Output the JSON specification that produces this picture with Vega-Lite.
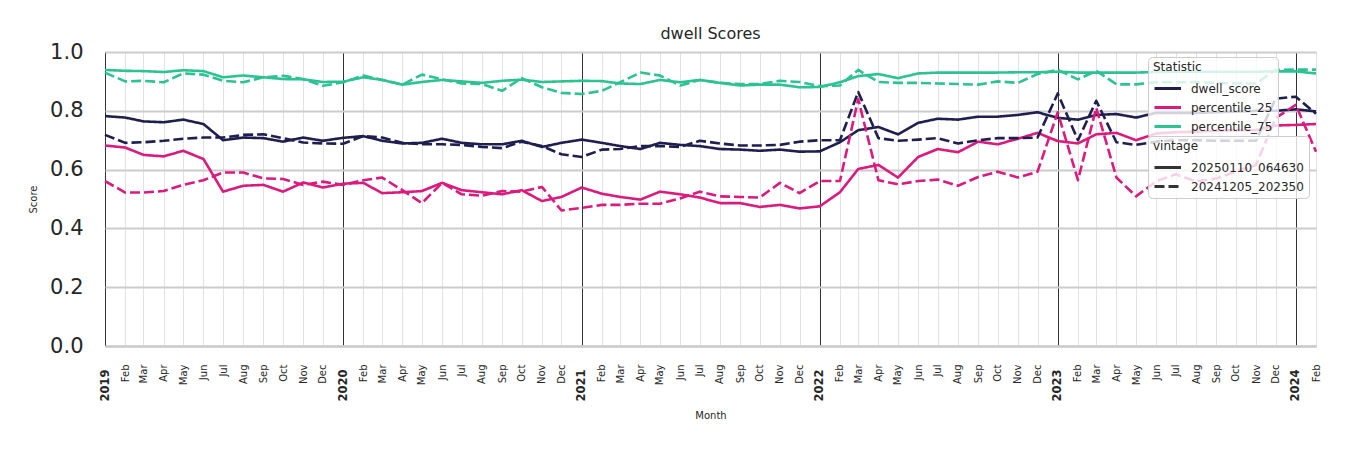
{
"$schema": "https://vega.github.io/schema/vega-lite/v6.json",
"width": 1211, "height": 294,
"autosize": "none",
"padding": {"left": 105, "top": 52, "right": 34, "bottom": 104},
"background": "white",
"config": {"font": "DejaVu Sans", "view": {"stroke": null}},
"title": {"text": "dwell Scores", "fontSize": 16, "fontWeight": "normal", "color": "#262626", "offset": 14, "dy": 28, "baseline": "alphabetic", "anchor": "middle", "frame": "group"},
"data": {"values": [
{"t":"2019-01-01","s":"dwell_score","g":"20250110_064630","y":0.782},{"t":"2019-02-01","s":"dwell_score","g":"20250110_064630","y":0.777},{"t":"2019-03-01","s":"dwell_score","g":"20250110_064630","y":0.764},{"t":"2019-04-01","s":"dwell_score","g":"20250110_064630","y":0.761},{"t":"2019-05-01","s":"dwell_score","g":"20250110_064630","y":0.770},{"t":"2019-06-01","s":"dwell_score","g":"20250110_064630","y":0.755},{"t":"2019-07-01","s":"dwell_score","g":"20250110_064630","y":0.700},{"t":"2019-08-01","s":"dwell_score","g":"20250110_064630","y":0.709},{"t":"2019-09-01","s":"dwell_score","g":"20250110_064630","y":0.707},{"t":"2019-10-01","s":"dwell_score","g":"20250110_064630","y":0.695},{"t":"2019-11-01","s":"dwell_score","g":"20250110_064630","y":0.709},{"t":"2019-12-01","s":"dwell_score","g":"20250110_064630","y":0.698},
{"t":"2020-01-01","s":"dwell_score","g":"20250110_064630","y":0.708},{"t":"2020-02-01","s":"dwell_score","g":"20250110_064630","y":0.714},{"t":"2020-03-01","s":"dwell_score","g":"20250110_064630","y":0.698},{"t":"2020-04-01","s":"dwell_score","g":"20250110_064630","y":0.689},{"t":"2020-05-01","s":"dwell_score","g":"20250110_064630","y":0.691},{"t":"2020-06-01","s":"dwell_score","g":"20250110_064630","y":0.705},{"t":"2020-07-01","s":"dwell_score","g":"20250110_064630","y":0.691},{"t":"2020-08-01","s":"dwell_score","g":"20250110_064630","y":0.686},{"t":"2020-09-01","s":"dwell_score","g":"20250110_064630","y":0.686},{"t":"2020-10-01","s":"dwell_score","g":"20250110_064630","y":0.698},{"t":"2020-11-01","s":"dwell_score","g":"20250110_064630","y":0.677},{"t":"2020-12-01","s":"dwell_score","g":"20250110_064630","y":0.691},
{"t":"2021-01-01","s":"dwell_score","g":"20250110_064630","y":0.702},{"t":"2021-02-01","s":"dwell_score","g":"20250110_064630","y":0.691},{"t":"2021-03-01","s":"dwell_score","g":"20250110_064630","y":0.680},{"t":"2021-04-01","s":"dwell_score","g":"20250110_064630","y":0.670},{"t":"2021-05-01","s":"dwell_score","g":"20250110_064630","y":0.691},{"t":"2021-06-01","s":"dwell_score","g":"20250110_064630","y":0.684},{"t":"2021-07-01","s":"dwell_score","g":"20250110_064630","y":0.680},{"t":"2021-08-01","s":"dwell_score","g":"20250110_064630","y":0.670},{"t":"2021-09-01","s":"dwell_score","g":"20250110_064630","y":0.668},{"t":"2021-10-01","s":"dwell_score","g":"20250110_064630","y":0.664},{"t":"2021-11-01","s":"dwell_score","g":"20250110_064630","y":0.668},{"t":"2021-12-01","s":"dwell_score","g":"20250110_064630","y":0.661},
{"t":"2022-01-01","s":"dwell_score","g":"20250110_064630","y":0.662},{"t":"2022-02-01","s":"dwell_score","g":"20250110_064630","y":0.693},{"t":"2022-03-01","s":"dwell_score","g":"20250110_064630","y":0.734},{"t":"2022-04-01","s":"dwell_score","g":"20250110_064630","y":0.745},{"t":"2022-05-01","s":"dwell_score","g":"20250110_064630","y":0.720},{"t":"2022-06-01","s":"dwell_score","g":"20250110_064630","y":0.759},{"t":"2022-07-01","s":"dwell_score","g":"20250110_064630","y":0.773},{"t":"2022-08-01","s":"dwell_score","g":"20250110_064630","y":0.770},{"t":"2022-09-01","s":"dwell_score","g":"20250110_064630","y":0.780},{"t":"2022-10-01","s":"dwell_score","g":"20250110_064630","y":0.780},{"t":"2022-11-01","s":"dwell_score","g":"20250110_064630","y":0.786},{"t":"2022-12-01","s":"dwell_score","g":"20250110_064630","y":0.795},
{"t":"2023-01-01","s":"dwell_score","g":"20250110_064630","y":0.776},{"t":"2023-02-01","s":"dwell_score","g":"20250110_064630","y":0.770},{"t":"2023-03-01","s":"dwell_score","g":"20250110_064630","y":0.786},{"t":"2023-04-01","s":"dwell_score","g":"20250110_064630","y":0.789},{"t":"2023-05-01","s":"dwell_score","g":"20250110_064630","y":0.777},{"t":"2023-06-01","s":"dwell_score","g":"20250110_064630","y":0.793},{"t":"2023-07-01","s":"dwell_score","g":"20250110_064630","y":0.793},{"t":"2023-08-01","s":"dwell_score","g":"20250110_064630","y":0.793},{"t":"2023-09-01","s":"dwell_score","g":"20250110_064630","y":0.795},{"t":"2023-10-01","s":"dwell_score","g":"20250110_064630","y":0.797},{"t":"2023-11-01","s":"dwell_score","g":"20250110_064630","y":0.800},{"t":"2023-12-01","s":"dwell_score","g":"20250110_064630","y":0.800},
{"t":"2024-01-01","s":"dwell_score","g":"20250110_064630","y":0.805},{"t":"2024-02-01","s":"dwell_score","g":"20250110_064630","y":0.798},

{"t":"2019-01-01","s":"percentile_25","g":"20250110_064630","y":0.682},{"t":"2019-02-01","s":"percentile_25","g":"20250110_064630","y":0.675},{"t":"2019-03-01","s":"percentile_25","g":"20250110_064630","y":0.650},{"t":"2019-04-01","s":"percentile_25","g":"20250110_064630","y":0.645},{"t":"2019-05-01","s":"percentile_25","g":"20250110_064630","y":0.664},{"t":"2019-06-01","s":"percentile_25","g":"20250110_064630","y":0.636},{"t":"2019-07-01","s":"percentile_25","g":"20250110_064630","y":0.525},{"t":"2019-08-01","s":"percentile_25","g":"20250110_064630","y":0.545},{"t":"2019-09-01","s":"percentile_25","g":"20250110_064630","y":0.548},{"t":"2019-10-01","s":"percentile_25","g":"20250110_064630","y":0.525},{"t":"2019-11-01","s":"percentile_25","g":"20250110_064630","y":0.556},{"t":"2019-12-01","s":"percentile_25","g":"20250110_064630","y":0.539},
{"t":"2020-01-01","s":"percentile_25","g":"20250110_064630","y":0.552},{"t":"2020-02-01","s":"percentile_25","g":"20250110_064630","y":0.555},{"t":"2020-03-01","s":"percentile_25","g":"20250110_064630","y":0.520},{"t":"2020-04-01","s":"percentile_25","g":"20250110_064630","y":0.523},{"t":"2020-05-01","s":"percentile_25","g":"20250110_064630","y":0.527},{"t":"2020-06-01","s":"percentile_25","g":"20250110_064630","y":0.555},{"t":"2020-07-01","s":"percentile_25","g":"20250110_064630","y":0.530},{"t":"2020-08-01","s":"percentile_25","g":"20250110_064630","y":0.523},{"t":"2020-09-01","s":"percentile_25","g":"20250110_064630","y":0.516},{"t":"2020-10-01","s":"percentile_25","g":"20250110_064630","y":0.530},{"t":"2020-11-01","s":"percentile_25","g":"20250110_064630","y":0.493},{"t":"2020-12-01","s":"percentile_25","g":"20250110_064630","y":0.507},
{"t":"2021-01-01","s":"percentile_25","g":"20250110_064630","y":0.539},{"t":"2021-02-01","s":"percentile_25","g":"20250110_064630","y":0.518},{"t":"2021-03-01","s":"percentile_25","g":"20250110_064630","y":0.507},{"t":"2021-04-01","s":"percentile_25","g":"20250110_064630","y":0.498},{"t":"2021-05-01","s":"percentile_25","g":"20250110_064630","y":0.525},{"t":"2021-06-01","s":"percentile_25","g":"20250110_064630","y":0.516},{"t":"2021-07-01","s":"percentile_25","g":"20250110_064630","y":0.505},{"t":"2021-08-01","s":"percentile_25","g":"20250110_064630","y":0.486},{"t":"2021-09-01","s":"percentile_25","g":"20250110_064630","y":0.486},{"t":"2021-10-01","s":"percentile_25","g":"20250110_064630","y":0.473},{"t":"2021-11-01","s":"percentile_25","g":"20250110_064630","y":0.480},{"t":"2021-12-01","s":"percentile_25","g":"20250110_064630","y":0.468},
{"t":"2022-01-01","s":"percentile_25","g":"20250110_064630","y":0.475},{"t":"2022-02-01","s":"percentile_25","g":"20250110_064630","y":0.523},{"t":"2022-03-01","s":"percentile_25","g":"20250110_064630","y":0.602},{"t":"2022-04-01","s":"percentile_25","g":"20250110_064630","y":0.616},{"t":"2022-05-01","s":"percentile_25","g":"20250110_064630","y":0.573},{"t":"2022-06-01","s":"percentile_25","g":"20250110_064630","y":0.643},{"t":"2022-07-01","s":"percentile_25","g":"20250110_064630","y":0.670},{"t":"2022-08-01","s":"percentile_25","g":"20250110_064630","y":0.659},{"t":"2022-09-01","s":"percentile_25","g":"20250110_064630","y":0.695},{"t":"2022-10-01","s":"percentile_25","g":"20250110_064630","y":0.686},{"t":"2022-11-01","s":"percentile_25","g":"20250110_064630","y":0.705},{"t":"2022-12-01","s":"percentile_25","g":"20250110_064630","y":0.725},
{"t":"2023-01-01","s":"percentile_25","g":"20250110_064630","y":0.697},{"t":"2023-02-01","s":"percentile_25","g":"20250110_064630","y":0.689},{"t":"2023-03-01","s":"percentile_25","g":"20250110_064630","y":0.720},{"t":"2023-04-01","s":"percentile_25","g":"20250110_064630","y":0.725},{"t":"2023-05-01","s":"percentile_25","g":"20250110_064630","y":0.700},{"t":"2023-06-01","s":"percentile_25","g":"20250110_064630","y":0.723},{"t":"2023-07-01","s":"percentile_25","g":"20250110_064630","y":0.727},{"t":"2023-08-01","s":"percentile_25","g":"20250110_064630","y":0.729},{"t":"2023-09-01","s":"percentile_25","g":"20250110_064630","y":0.732},{"t":"2023-10-01","s":"percentile_25","g":"20250110_064630","y":0.734},{"t":"2023-11-01","s":"percentile_25","g":"20250110_064630","y":0.734},{"t":"2023-12-01","s":"percentile_25","g":"20250110_064630","y":0.750},
{"t":"2024-01-01","s":"percentile_25","g":"20250110_064630","y":0.752},{"t":"2024-02-01","s":"percentile_25","g":"20250110_064630","y":0.755},

{"t":"2019-01-01","s":"percentile_75","g":"20250110_064630","y":0.939},{"t":"2019-02-01","s":"percentile_75","g":"20250110_064630","y":0.936},{"t":"2019-03-01","s":"percentile_75","g":"20250110_064630","y":0.935},{"t":"2019-04-01","s":"percentile_75","g":"20250110_064630","y":0.932},{"t":"2019-05-01","s":"percentile_75","g":"20250110_064630","y":0.938},{"t":"2019-06-01","s":"percentile_75","g":"20250110_064630","y":0.935},{"t":"2019-07-01","s":"percentile_75","g":"20250110_064630","y":0.914},{"t":"2019-08-01","s":"percentile_75","g":"20250110_064630","y":0.920},{"t":"2019-09-01","s":"percentile_75","g":"20250110_064630","y":0.914},{"t":"2019-10-01","s":"percentile_75","g":"20250110_064630","y":0.908},{"t":"2019-11-01","s":"percentile_75","g":"20250110_064630","y":0.907},{"t":"2019-12-01","s":"percentile_75","g":"20250110_064630","y":0.898},
{"t":"2020-01-01","s":"percentile_75","g":"20250110_064630","y":0.899},{"t":"2020-02-01","s":"percentile_75","g":"20250110_064630","y":0.914},{"t":"2020-03-01","s":"percentile_75","g":"20250110_064630","y":0.905},{"t":"2020-04-01","s":"percentile_75","g":"20250110_064630","y":0.889},{"t":"2020-05-01","s":"percentile_75","g":"20250110_064630","y":0.898},{"t":"2020-06-01","s":"percentile_75","g":"20250110_064630","y":0.905},{"t":"2020-07-01","s":"percentile_75","g":"20250110_064630","y":0.900},{"t":"2020-08-01","s":"percentile_75","g":"20250110_064630","y":0.895},{"t":"2020-09-01","s":"percentile_75","g":"20250110_064630","y":0.902},{"t":"2020-10-01","s":"percentile_75","g":"20250110_064630","y":0.906},{"t":"2020-11-01","s":"percentile_75","g":"20250110_064630","y":0.898},{"t":"2020-12-01","s":"percentile_75","g":"20250110_064630","y":0.900},
{"t":"2021-01-01","s":"percentile_75","g":"20250110_064630","y":0.902},{"t":"2021-02-01","s":"percentile_75","g":"20250110_064630","y":0.901},{"t":"2021-03-01","s":"percentile_75","g":"20250110_064630","y":0.893},{"t":"2021-04-01","s":"percentile_75","g":"20250110_064630","y":0.891},{"t":"2021-05-01","s":"percentile_75","g":"20250110_064630","y":0.905},{"t":"2021-06-01","s":"percentile_75","g":"20250110_064630","y":0.897},{"t":"2021-07-01","s":"percentile_75","g":"20250110_064630","y":0.905},{"t":"2021-08-01","s":"percentile_75","g":"20250110_064630","y":0.895},{"t":"2021-09-01","s":"percentile_75","g":"20250110_064630","y":0.886},{"t":"2021-10-01","s":"percentile_75","g":"20250110_064630","y":0.889},{"t":"2021-11-01","s":"percentile_75","g":"20250110_064630","y":0.889},{"t":"2021-12-01","s":"percentile_75","g":"20250110_064630","y":0.880},
{"t":"2022-01-01","s":"percentile_75","g":"20250110_064630","y":0.881},{"t":"2022-02-01","s":"percentile_75","g":"20250110_064630","y":0.897},{"t":"2022-03-01","s":"percentile_75","g":"20250110_064630","y":0.918},{"t":"2022-04-01","s":"percentile_75","g":"20250110_064630","y":0.925},{"t":"2022-05-01","s":"percentile_75","g":"20250110_064630","y":0.911},{"t":"2022-06-01","s":"percentile_75","g":"20250110_064630","y":0.927},{"t":"2022-07-01","s":"percentile_75","g":"20250110_064630","y":0.930},{"t":"2022-08-01","s":"percentile_75","g":"20250110_064630","y":0.930},{"t":"2022-09-01","s":"percentile_75","g":"20250110_064630","y":0.930},{"t":"2022-10-01","s":"percentile_75","g":"20250110_064630","y":0.930},{"t":"2022-11-01","s":"percentile_75","g":"20250110_064630","y":0.931},{"t":"2022-12-01","s":"percentile_75","g":"20250110_064630","y":0.931},
{"t":"2023-01-01","s":"percentile_75","g":"20250110_064630","y":0.933},{"t":"2023-02-01","s":"percentile_75","g":"20250110_064630","y":0.930},{"t":"2023-03-01","s":"percentile_75","g":"20250110_064630","y":0.930},{"t":"2023-04-01","s":"percentile_75","g":"20250110_064630","y":0.930},{"t":"2023-05-01","s":"percentile_75","g":"20250110_064630","y":0.930},{"t":"2023-06-01","s":"percentile_75","g":"20250110_064630","y":0.932},{"t":"2023-07-01","s":"percentile_75","g":"20250110_064630","y":0.933},{"t":"2023-08-01","s":"percentile_75","g":"20250110_064630","y":0.933},{"t":"2023-09-01","s":"percentile_75","g":"20250110_064630","y":0.933},{"t":"2023-10-01","s":"percentile_75","g":"20250110_064630","y":0.933},{"t":"2023-11-01","s":"percentile_75","g":"20250110_064630","y":0.933},{"t":"2023-12-01","s":"percentile_75","g":"20250110_064630","y":0.934},
{"t":"2024-01-01","s":"percentile_75","g":"20250110_064630","y":0.934},{"t":"2024-02-01","s":"percentile_75","g":"20250110_064630","y":0.927},

{"t":"2019-01-01","s":"dwell_score","g":"20241205_202350","y":0.718},{"t":"2019-02-01","s":"dwell_score","g":"20241205_202350","y":0.691},{"t":"2019-03-01","s":"dwell_score","g":"20241205_202350","y":0.693},{"t":"2019-04-01","s":"dwell_score","g":"20241205_202350","y":0.698},{"t":"2019-05-01","s":"dwell_score","g":"20241205_202350","y":0.705},{"t":"2019-06-01","s":"dwell_score","g":"20241205_202350","y":0.709},{"t":"2019-07-01","s":"dwell_score","g":"20241205_202350","y":0.709},{"t":"2019-08-01","s":"dwell_score","g":"20241205_202350","y":0.718},{"t":"2019-09-01","s":"dwell_score","g":"20241205_202350","y":0.720},{"t":"2019-10-01","s":"dwell_score","g":"20241205_202350","y":0.707},{"t":"2019-11-01","s":"dwell_score","g":"20241205_202350","y":0.692},{"t":"2019-12-01","s":"dwell_score","g":"20241205_202350","y":0.689},
{"t":"2020-01-01","s":"dwell_score","g":"20241205_202350","y":0.688},{"t":"2020-02-01","s":"dwell_score","g":"20241205_202350","y":0.714},{"t":"2020-03-01","s":"dwell_score","g":"20241205_202350","y":0.709},{"t":"2020-04-01","s":"dwell_score","g":"20241205_202350","y":0.691},{"t":"2020-05-01","s":"dwell_score","g":"20241205_202350","y":0.686},{"t":"2020-06-01","s":"dwell_score","g":"20241205_202350","y":0.686},{"t":"2020-07-01","s":"dwell_score","g":"20241205_202350","y":0.684},{"t":"2020-08-01","s":"dwell_score","g":"20241205_202350","y":0.677},{"t":"2020-09-01","s":"dwell_score","g":"20241205_202350","y":0.673},{"t":"2020-10-01","s":"dwell_score","g":"20241205_202350","y":0.695},{"t":"2020-11-01","s":"dwell_score","g":"20241205_202350","y":0.680},{"t":"2020-12-01","s":"dwell_score","g":"20241205_202350","y":0.652},
{"t":"2021-01-01","s":"dwell_score","g":"20241205_202350","y":0.643},{"t":"2021-02-01","s":"dwell_score","g":"20241205_202350","y":0.668},{"t":"2021-03-01","s":"dwell_score","g":"20241205_202350","y":0.670},{"t":"2021-04-01","s":"dwell_score","g":"20241205_202350","y":0.680},{"t":"2021-05-01","s":"dwell_score","g":"20241205_202350","y":0.680},{"t":"2021-06-01","s":"dwell_score","g":"20241205_202350","y":0.677},{"t":"2021-07-01","s":"dwell_score","g":"20241205_202350","y":0.698},{"t":"2021-08-01","s":"dwell_score","g":"20241205_202350","y":0.689},{"t":"2021-09-01","s":"dwell_score","g":"20241205_202350","y":0.682},{"t":"2021-10-01","s":"dwell_score","g":"20241205_202350","y":0.682},{"t":"2021-11-01","s":"dwell_score","g":"20241205_202350","y":0.684},{"t":"2021-12-01","s":"dwell_score","g":"20241205_202350","y":0.695},
{"t":"2022-01-01","s":"dwell_score","g":"20241205_202350","y":0.700},{"t":"2022-02-01","s":"dwell_score","g":"20241205_202350","y":0.700},{"t":"2022-03-01","s":"dwell_score","g":"20241205_202350","y":0.864},{"t":"2022-04-01","s":"dwell_score","g":"20241205_202350","y":0.707},{"t":"2022-05-01","s":"dwell_score","g":"20241205_202350","y":0.698},{"t":"2022-06-01","s":"dwell_score","g":"20241205_202350","y":0.702},{"t":"2022-07-01","s":"dwell_score","g":"20241205_202350","y":0.707},{"t":"2022-08-01","s":"dwell_score","g":"20241205_202350","y":0.689},{"t":"2022-09-01","s":"dwell_score","g":"20241205_202350","y":0.700},{"t":"2022-10-01","s":"dwell_score","g":"20241205_202350","y":0.707},{"t":"2022-11-01","s":"dwell_score","g":"20241205_202350","y":0.707},{"t":"2022-12-01","s":"dwell_score","g":"20241205_202350","y":0.709},
{"t":"2023-01-01","s":"dwell_score","g":"20241205_202350","y":0.859},{"t":"2023-02-01","s":"dwell_score","g":"20241205_202350","y":0.700},{"t":"2023-03-01","s":"dwell_score","g":"20241205_202350","y":0.834},{"t":"2023-04-01","s":"dwell_score","g":"20241205_202350","y":0.693},{"t":"2023-05-01","s":"dwell_score","g":"20241205_202350","y":0.684},{"t":"2023-06-01","s":"dwell_score","g":"20241205_202350","y":0.695},{"t":"2023-07-01","s":"dwell_score","g":"20241205_202350","y":0.700},{"t":"2023-08-01","s":"dwell_score","g":"20241205_202350","y":0.700},{"t":"2023-09-01","s":"dwell_score","g":"20241205_202350","y":0.698},{"t":"2023-10-01","s":"dwell_score","g":"20241205_202350","y":0.698},{"t":"2023-11-01","s":"dwell_score","g":"20241205_202350","y":0.698},{"t":"2023-12-01","s":"dwell_score","g":"20241205_202350","y":0.841},
{"t":"2024-01-01","s":"dwell_score","g":"20241205_202350","y":0.848},{"t":"2024-02-01","s":"dwell_score","g":"20241205_202350","y":0.790},

{"t":"2019-01-01","s":"percentile_25","g":"20241205_202350","y":0.561},{"t":"2019-02-01","s":"percentile_25","g":"20241205_202350","y":0.522},{"t":"2019-03-01","s":"percentile_25","g":"20241205_202350","y":0.522},{"t":"2019-04-01","s":"percentile_25","g":"20241205_202350","y":0.527},{"t":"2019-05-01","s":"percentile_25","g":"20241205_202350","y":0.548},{"t":"2019-06-01","s":"percentile_25","g":"20241205_202350","y":0.564},{"t":"2019-07-01","s":"percentile_25","g":"20241205_202350","y":0.590},{"t":"2019-08-01","s":"percentile_25","g":"20241205_202350","y":0.590},{"t":"2019-09-01","s":"percentile_25","g":"20241205_202350","y":0.570},{"t":"2019-10-01","s":"percentile_25","g":"20241205_202350","y":0.568},{"t":"2019-11-01","s":"percentile_25","g":"20241205_202350","y":0.548},{"t":"2019-12-01","s":"percentile_25","g":"20241205_202350","y":0.559},
{"t":"2020-01-01","s":"percentile_25","g":"20241205_202350","y":0.548},{"t":"2020-02-01","s":"percentile_25","g":"20241205_202350","y":0.564},{"t":"2020-03-01","s":"percentile_25","g":"20241205_202350","y":0.573},{"t":"2020-04-01","s":"percentile_25","g":"20241205_202350","y":0.530},{"t":"2020-05-01","s":"percentile_25","g":"20241205_202350","y":0.486},{"t":"2020-06-01","s":"percentile_25","g":"20241205_202350","y":0.555},{"t":"2020-07-01","s":"percentile_25","g":"20241205_202350","y":0.516},{"t":"2020-08-01","s":"percentile_25","g":"20241205_202350","y":0.511},{"t":"2020-09-01","s":"percentile_25","g":"20241205_202350","y":0.527},{"t":"2020-10-01","s":"percentile_25","g":"20241205_202350","y":0.525},{"t":"2020-11-01","s":"percentile_25","g":"20241205_202350","y":0.541},{"t":"2020-12-01","s":"percentile_25","g":"20241205_202350","y":0.461},
{"t":"2021-01-01","s":"percentile_25","g":"20241205_202350","y":0.470},{"t":"2021-02-01","s":"percentile_25","g":"20241205_202350","y":0.480},{"t":"2021-03-01","s":"percentile_25","g":"20241205_202350","y":0.480},{"t":"2021-04-01","s":"percentile_25","g":"20241205_202350","y":0.484},{"t":"2021-05-01","s":"percentile_25","g":"20241205_202350","y":0.484},{"t":"2021-06-01","s":"percentile_25","g":"20241205_202350","y":0.502},{"t":"2021-07-01","s":"percentile_25","g":"20241205_202350","y":0.525},{"t":"2021-08-01","s":"percentile_25","g":"20241205_202350","y":0.509},{"t":"2021-09-01","s":"percentile_25","g":"20241205_202350","y":0.507},{"t":"2021-10-01","s":"percentile_25","g":"20241205_202350","y":0.505},{"t":"2021-11-01","s":"percentile_25","g":"20241205_202350","y":0.555},{"t":"2021-12-01","s":"percentile_25","g":"20241205_202350","y":0.520},
{"t":"2022-01-01","s":"percentile_25","g":"20241205_202350","y":0.561},{"t":"2022-02-01","s":"percentile_25","g":"20241205_202350","y":0.561},{"t":"2022-03-01","s":"percentile_25","g":"20241205_202350","y":0.840},{"t":"2022-04-01","s":"percentile_25","g":"20241205_202350","y":0.564},{"t":"2022-05-01","s":"percentile_25","g":"20241205_202350","y":0.550},{"t":"2022-06-01","s":"percentile_25","g":"20241205_202350","y":0.561},{"t":"2022-07-01","s":"percentile_25","g":"20241205_202350","y":0.566},{"t":"2022-08-01","s":"percentile_25","g":"20241205_202350","y":0.545},{"t":"2022-09-01","s":"percentile_25","g":"20241205_202350","y":0.575},{"t":"2022-10-01","s":"percentile_25","g":"20241205_202350","y":0.593},{"t":"2022-11-01","s":"percentile_25","g":"20241205_202350","y":0.573},{"t":"2022-12-01","s":"percentile_25","g":"20241205_202350","y":0.593},
{"t":"2023-01-01","s":"percentile_25","g":"20241205_202350","y":0.795},{"t":"2023-02-01","s":"percentile_25","g":"20241205_202350","y":0.564},{"t":"2023-03-01","s":"percentile_25","g":"20241205_202350","y":0.810},{"t":"2023-04-01","s":"percentile_25","g":"20241205_202350","y":0.573},{"t":"2023-05-01","s":"percentile_25","g":"20241205_202350","y":0.509},{"t":"2023-06-01","s":"percentile_25","g":"20241205_202350","y":0.560},{"t":"2023-07-01","s":"percentile_25","g":"20241205_202350","y":0.584},{"t":"2023-08-01","s":"percentile_25","g":"20241205_202350","y":0.560},{"t":"2023-09-01","s":"percentile_25","g":"20241205_202350","y":0.570},{"t":"2023-10-01","s":"percentile_25","g":"20241205_202350","y":0.593},{"t":"2023-11-01","s":"percentile_25","g":"20241205_202350","y":0.616},{"t":"2023-12-01","s":"percentile_25","g":"20241205_202350","y":0.775},
{"t":"2024-01-01","s":"percentile_25","g":"20241205_202350","y":0.820},{"t":"2024-02-01","s":"percentile_25","g":"20241205_202350","y":0.661},

{"t":"2019-01-01","s":"percentile_75","g":"20241205_202350","y":0.930},{"t":"2019-02-01","s":"percentile_75","g":"20241205_202350","y":0.900},{"t":"2019-03-01","s":"percentile_75","g":"20241205_202350","y":0.902},{"t":"2019-04-01","s":"percentile_75","g":"20241205_202350","y":0.897},{"t":"2019-05-01","s":"percentile_75","g":"20241205_202350","y":0.927},{"t":"2019-06-01","s":"percentile_75","g":"20241205_202350","y":0.923},{"t":"2019-07-01","s":"percentile_75","g":"20241205_202350","y":0.902},{"t":"2019-08-01","s":"percentile_75","g":"20241205_202350","y":0.897},{"t":"2019-09-01","s":"percentile_75","g":"20241205_202350","y":0.914},{"t":"2019-10-01","s":"percentile_75","g":"20241205_202350","y":0.919},{"t":"2019-11-01","s":"percentile_75","g":"20241205_202350","y":0.908},{"t":"2019-12-01","s":"percentile_75","g":"20241205_202350","y":0.885},
{"t":"2020-01-01","s":"percentile_75","g":"20241205_202350","y":0.897},{"t":"2020-02-01","s":"percentile_75","g":"20241205_202350","y":0.920},{"t":"2020-03-01","s":"percentile_75","g":"20241205_202350","y":0.905},{"t":"2020-04-01","s":"percentile_75","g":"20241205_202350","y":0.889},{"t":"2020-05-01","s":"percentile_75","g":"20241205_202350","y":0.923},{"t":"2020-06-01","s":"percentile_75","g":"20241205_202350","y":0.907},{"t":"2020-07-01","s":"percentile_75","g":"20241205_202350","y":0.893},{"t":"2020-08-01","s":"percentile_75","g":"20241205_202350","y":0.891},{"t":"2020-09-01","s":"percentile_75","g":"20241205_202350","y":0.868},{"t":"2020-10-01","s":"percentile_75","g":"20241205_202350","y":0.911},{"t":"2020-11-01","s":"percentile_75","g":"20241205_202350","y":0.880},{"t":"2020-12-01","s":"percentile_75","g":"20241205_202350","y":0.861},
{"t":"2021-01-01","s":"percentile_75","g":"20241205_202350","y":0.857},{"t":"2021-02-01","s":"percentile_75","g":"20241205_202350","y":0.868},{"t":"2021-03-01","s":"percentile_75","g":"20241205_202350","y":0.897},{"t":"2021-04-01","s":"percentile_75","g":"20241205_202350","y":0.930},{"t":"2021-05-01","s":"percentile_75","g":"20241205_202350","y":0.920},{"t":"2021-06-01","s":"percentile_75","g":"20241205_202350","y":0.886},{"t":"2021-07-01","s":"percentile_75","g":"20241205_202350","y":0.905},{"t":"2021-08-01","s":"percentile_75","g":"20241205_202350","y":0.895},{"t":"2021-09-01","s":"percentile_75","g":"20241205_202350","y":0.891},{"t":"2021-10-01","s":"percentile_75","g":"20241205_202350","y":0.891},{"t":"2021-11-01","s":"percentile_75","g":"20241205_202350","y":0.902},{"t":"2021-12-01","s":"percentile_75","g":"20241205_202350","y":0.898},
{"t":"2022-01-01","s":"percentile_75","g":"20241205_202350","y":0.884},{"t":"2022-02-01","s":"percentile_75","g":"20241205_202350","y":0.886},{"t":"2022-03-01","s":"percentile_75","g":"20241205_202350","y":0.939},{"t":"2022-04-01","s":"percentile_75","g":"20241205_202350","y":0.898},{"t":"2022-05-01","s":"percentile_75","g":"20241205_202350","y":0.895},{"t":"2022-06-01","s":"percentile_75","g":"20241205_202350","y":0.895},{"t":"2022-07-01","s":"percentile_75","g":"20241205_202350","y":0.893},{"t":"2022-08-01","s":"percentile_75","g":"20241205_202350","y":0.891},{"t":"2022-09-01","s":"percentile_75","g":"20241205_202350","y":0.889},{"t":"2022-10-01","s":"percentile_75","g":"20241205_202350","y":0.900},{"t":"2022-11-01","s":"percentile_75","g":"20241205_202350","y":0.895},{"t":"2022-12-01","s":"percentile_75","g":"20241205_202350","y":0.925},
{"t":"2023-01-01","s":"percentile_75","g":"20241205_202350","y":0.939},{"t":"2023-02-01","s":"percentile_75","g":"20241205_202350","y":0.907},{"t":"2023-03-01","s":"percentile_75","g":"20241205_202350","y":0.936},{"t":"2023-04-01","s":"percentile_75","g":"20241205_202350","y":0.890},{"t":"2023-05-01","s":"percentile_75","g":"20241205_202350","y":0.890},{"t":"2023-06-01","s":"percentile_75","g":"20241205_202350","y":0.897},{"t":"2023-07-01","s":"percentile_75","g":"20241205_202350","y":0.897},{"t":"2023-08-01","s":"percentile_75","g":"20241205_202350","y":0.897},{"t":"2023-09-01","s":"percentile_75","g":"20241205_202350","y":0.895},{"t":"2023-10-01","s":"percentile_75","g":"20241205_202350","y":0.893},{"t":"2023-11-01","s":"percentile_75","g":"20241205_202350","y":0.893},{"t":"2023-12-01","s":"percentile_75","g":"20241205_202350","y":0.939},
{"t":"2024-01-01","s":"percentile_75","g":"20241205_202350","y":0.940},{"t":"2024-02-01","s":"percentile_75","g":"20241205_202350","y":0.940}
], "format": {"parse": {"t": "utc:'%Y-%m-%d'"}}},
"mark": {"type": "line", "strokeWidth": 2.6, "strokeJoin": "round", "strokeCap": "butt"},
"encoding": {
  "x": {"field": "t", "type": "temporal",
    "scale": {"type": "utc", "domain": [{"year": 2019, "month": 1, "date": 1, "utc": true}, {"year": 2024, "month": 2, "date": 1, "utc": true}]},
    "axis": {
      "title": "Month", "titleFontSize": 10, "titleFontWeight": "normal", "titleColor": "#262626",
      "titleX": 605.5, "titleY": 69, "titleBaseline": "middle", "titleAlign": "center",
      "tickCount": {"interval": "month", "step": 1},
      "labelExpr": "utcmonth(datum.value) == 0 ? utcFormat(datum.value, '%Y') : utcFormat(datum.value, '%b')",
      "labelAngle": 270, "labelAlign": "right", "labelBaseline": "middle",
      "labelPadding": {"condition": {"test": "utcmonth(datum.value) == 0", "value": 23}, "value": 18},
      "labelFontWeight": {"condition": {"test": "utcmonth(datum.value) == 0", "value": "bold"}, "value": "normal"},
      "labelFontSize": {"condition": {"test": "utcmonth(datum.value) == 0", "value": 11.5}, "value": 10},
      "labelColor": "#262626", "labelOverlap": false, "labelFlush": false, "labelBound": false,
      "ticks": false, "domain": true, "domainColor": "#cccccc", "domainWidth": 2.5,
      "grid": true, "gridWidth": 1,
      "gridColor": {"condition": {"test": "utcmonth(datum.value) == 0", "value": "#333333"}, "value": "#e2e2e2"}
    }},
  "y": {"field": "y", "type": "quantitative",
    "scale": {"domain": [0, 1], "nice": false, "zero": true},
    "axis": {
      "title": "Score", "titleFontSize": 10, "titleFontWeight": "normal", "titleColor": "#262626",
      "titleX": -72, "titleY": 147, "titleAngle": 270, "titleAlign": "center", "titleBaseline": "middle",
      "values": [0, 0.2, 0.4, 0.6, 0.8, 1.0], "format": ".1f",
      "labelFontSize": 21, "labelColor": "#262626", "labelPadding": 22, "labelFlush": false,
      "ticks": false, "domain": false, "grid": true, "gridColor": "#cccccc", "gridWidth": 1.8
    }},
  "color": {"field": "s", "type": "nominal",
    "scale": {"domain": ["dwell_score", "percentile_25", "percentile_75"], "range": ["#1e1e50", "#dc1a7e", "#2ac391"]},
    "legend": {"title": "Statistic", "orient": "none", "legendX": 1043, "legendY": 5,
      "fillColor": "rgba(255,255,255,0.8)", "strokeColor": "#cccccc", "cornerRadius": 4, "padding": 5,
      "titleFontSize": 12, "titleFontWeight": "normal", "titleColor": "#262626", "titlePadding": 8,
      "labelFontSize": 12, "labelColor": "#262626", "labelOffset": 25,
      "symbolType": "M-1,0H4.3", "symbolSize": 100, "symbolStrokeWidth": 3, "rowPadding": 6}},
  "strokeDash": {"field": "g", "type": "nominal",
    "scale": {"domain": ["20250110_064630", "20241205_202350"], "range": [[1, 0], [10, 4]]},
    "legend": {"title": "vintage", "orient": "none", "legendX": 1043, "legendY": 84,
      "fillColor": "rgba(255,255,255,0.8)", "strokeColor": "#cccccc", "cornerRadius": 4, "padding": 5,
      "titleFontSize": 12, "titleFontWeight": "normal", "titleColor": "#262626", "titlePadding": 8,
      "labelFontSize": 12, "labelColor": "#262626", "labelOffset": 25,
      "symbolType": "M-1,0H4.3", "symbolSize": 100, "symbolStrokeWidth": 3, "symbolStrokeColor": "#333333", "rowPadding": 6}}
}
}
